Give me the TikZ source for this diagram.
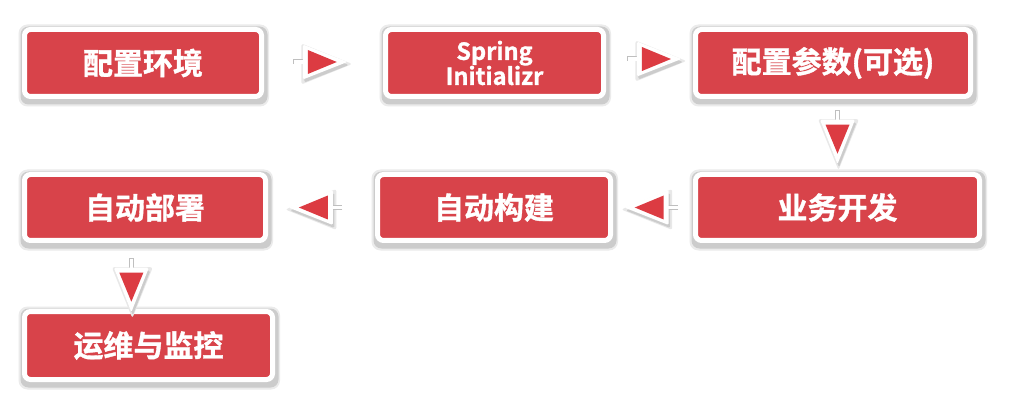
\documentclass[tikz,border=0pt]{standalone}
\usepackage{fontspec}
\setmainfont{Noto Sans CJK SC}[UprightFont=* Bold, UprightFeatures={FakeBold=1.2}]
\usetikzlibrary{calc,backgrounds}
\definecolor{boxred}{HTML}{D8434A}
\definecolor{tipred}{HTML}{DC3B42}
\tikzset{
  stepbox/.style={rectangle, rounded corners=6pt, fill=boxred, draw=white,
    line width=5pt, text=white, inner sep=0pt, minimum height=67pt,
    font=\fontsize{30}{34}\selectfont},
  pics/flowtip/.style={code={
    \begin{scope}[shift={(1,2)}]\begin{scope}[rotate=#1]
      \fill[black!9, rounded corners=2.5pt] (-22,-20.5) -- (29,0) -- (-22,20.5) -- cycle;
    \end{scope}\end{scope}
    \begin{scope}[shift={(1.5,3)}]\begin{scope}[rotate=#1]
      \fill[black!20, rounded corners=1.5pt] (-19.5,-17.5) -- (25,0) -- (-19.5,17.5) -- cycle;
    \end{scope}\end{scope}
    \begin{scope}[rotate=#1]
      \draw[black!25, line width=5pt] (-29,0) -- (-18,0);
      \draw[white, line width=3.2pt] (-28.5,0) -- (-17,0);
      \fill[white, rounded corners=1.5pt] (-19.5,-17.5) -- (25,0) -- (-19.5,17.5) -- cycle;
      \fill[tipred] (-14.5,-12) -- (14.5,0) -- (-14.5,12) -- cycle;
    \end{scope}
  }}
}
\begin{document}
\begin{tikzpicture}[x=1pt,y=-1pt]
\useasboundingbox (0,0) rectangle (1020,414);
\node[stepbox, minimum width=237pt] (b1) at (143,63) {配置环境};
\node[stepbox, minimum width=218pt, align=center,
      font=\fontsize{23.5}{25}\selectfont] (b2) at (494.5,63) {Spring\\Initializr};
\node[stepbox, minimum width=275pt] (b3) at (833,63) {配置参数(可选)};
\node[stepbox, minimum width=241pt, minimum height=66pt] (b4) at (145,207.5) {自动部署};
\node[stepbox, minimum width=233pt, minimum height=66pt] (b5) at (494,207.5) {自动构建};
\node[stepbox, minimum width=284pt, minimum height=66pt] (b6) at (837.5,207.5) {业务开发};
\node[stepbox, minimum width=248pt, minimum height=68pt] (b7) at (148.5,345.5) {运维与监控};

\coordinate (t1) at ($(b1.east)!0.49!(b2.west) + (0,-1)$);
\coordinate (t2) at ($(b2.east)!0.58!(b3.west) + (0,-4)$);
\coordinate (t3) at ($(b3.south -| b6.north)!0.55!(b6.north)$);
\coordinate (t4) at ($(b6.west)!0.547!(b5.east)$);
\coordinate (t5) at ($(b5.west)!0.576!(b4.east)$);
\coordinate (t6) at ($(b4.south)!0.67!(b7.north) + (-16,0)$);

\pic at (t1) {flowtip=0};
\pic at (t2) {flowtip=0};
\pic at (t3) {flowtip=-90};
\pic at (t4) {flowtip=180};
\pic at (t5) {flowtip=180};
\pic at (t6) {flowtip=-90};

\begin{scope}[on background layer]
  \fill[white] (0,0) rectangle (1020,414);
  \foreach \b in {b1,b2,b3,b4,b5,b6,b7}{
    \fill[black!8, rounded corners=9pt] ([shift={(-3.5,-2.5)}]\b.north west) rectangle ([shift={(5,7.5)}]\b.south east);
    \fill[black!20, rounded corners=8pt] ([shift={(-1.5,-0.5)}]\b.north west) rectangle ([shift={(3.5,5.5)}]\b.south east);
  }
\end{scope}
\end{tikzpicture}
\end{document}
